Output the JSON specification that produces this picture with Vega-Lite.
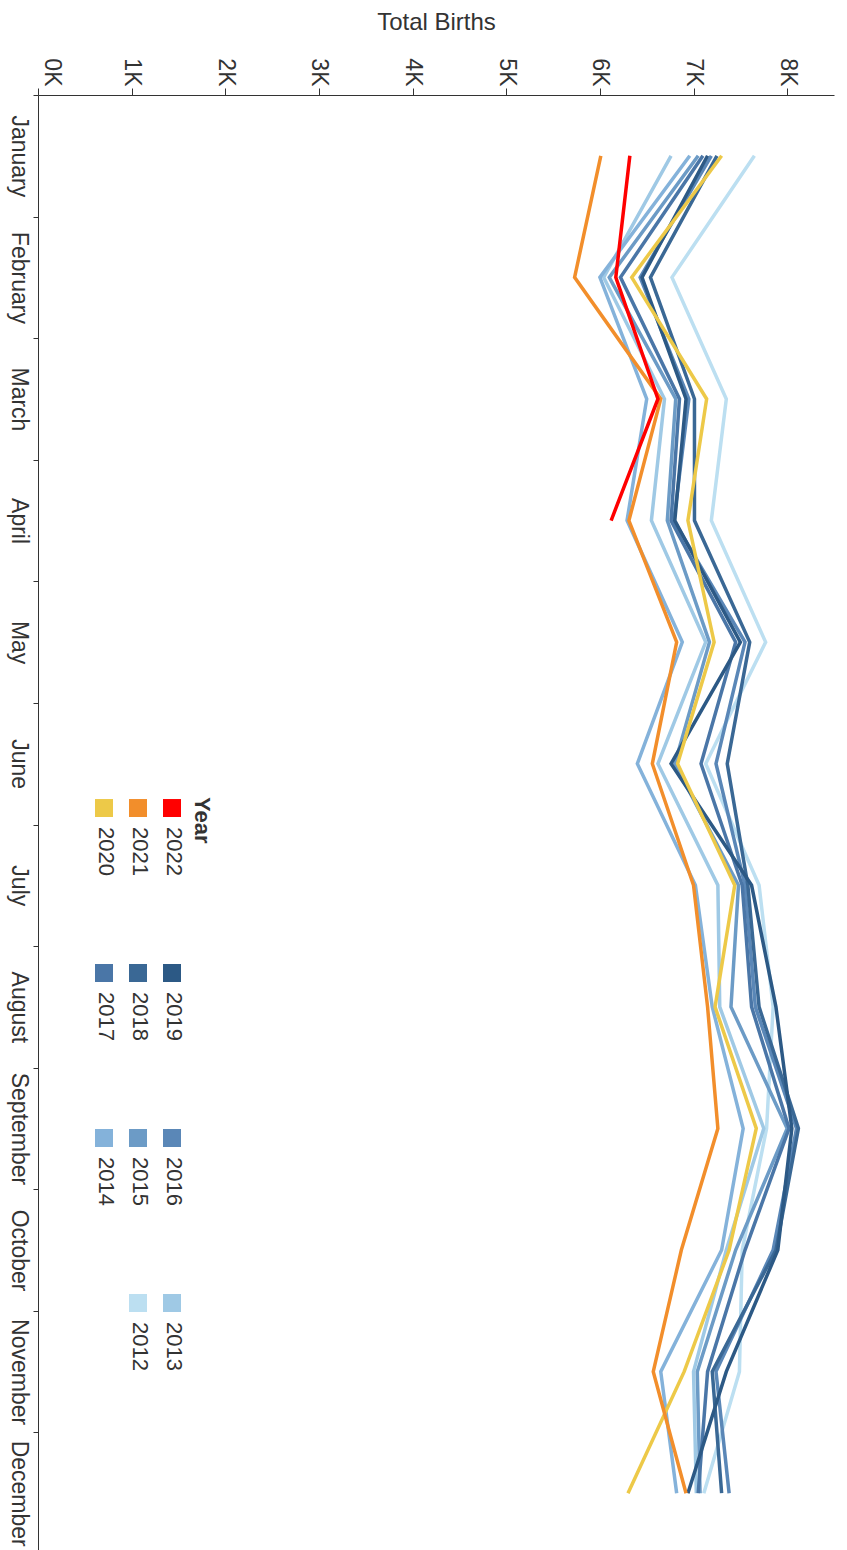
{
  "$schema": "https://vega.github.io/schema/vega-lite/v6.json",
  "width": 796,
  "height": 1459,
  "autosize": {"type": "none"},
  "padding": {"left": 38, "top": 95, "right": 13, "bottom": 0},
  "background": "white",
  "config": {"view": {"stroke": null}, "font": "Liberation Sans"},
  "data": {"values": [
    {"year":"2012","month":"January","m":1,"births":7650},{"year":"2012","month":"February","m":2,"births":6770},{"year":"2012","month":"March","m":3,"births":7350},{"year":"2012","month":"April","m":4,"births":7190},{"year":"2012","month":"May","m":5,"births":7770},{"year":"2012","month":"June","m":6,"births":7130},{"year":"2012","month":"July","m":7,"births":7700},{"year":"2012","month":"August","m":8,"births":7850},{"year":"2012","month":"September","m":9,"births":7780},{"year":"2012","month":"October","m":10,"births":7520},{"year":"2012","month":"November","m":11,"births":7490},{"year":"2012","month":"December","m":12,"births":7110},
    {"year":"2013","month":"January","m":1,"births":6760},{"year":"2013","month":"February","m":2,"births":6040},{"year":"2013","month":"March","m":3,"births":6690},{"year":"2013","month":"April","m":4,"births":6550},{"year":"2013","month":"May","m":5,"births":7130},{"year":"2013","month":"June","m":6,"births":6620},{"year":"2013","month":"July","m":7,"births":7260},{"year":"2013","month":"August","m":8,"births":7280},{"year":"2013","month":"September","m":9,"births":7750},{"year":"2013","month":"October","m":10,"births":7350},{"year":"2013","month":"November","m":11,"births":7000},{"year":"2013","month":"December","m":12,"births":7030},
    {"year":"2014","month":"January","m":1,"births":6960},{"year":"2014","month":"February","m":2,"births":6000},{"year":"2014","month":"March","m":3,"births":6500},{"year":"2014","month":"April","m":4,"births":6290},{"year":"2014","month":"May","m":5,"births":6880},{"year":"2014","month":"June","m":6,"births":6400},{"year":"2014","month":"July","m":7,"births":7020},{"year":"2014","month":"August","m":8,"births":7200},{"year":"2014","month":"September","m":9,"births":7530},{"year":"2014","month":"October","m":10,"births":7300},{"year":"2014","month":"November","m":11,"births":6650},{"year":"2014","month":"December","m":12,"births":6820},
    {"year":"2015","month":"January","m":1,"births":7050},{"year":"2015","month":"February","m":2,"births":6100},{"year":"2015","month":"March","m":3,"births":6810},{"year":"2015","month":"April","m":4,"births":6720},{"year":"2015","month":"May","m":5,"births":7170},{"year":"2015","month":"June","m":6,"births":6800},{"year":"2015","month":"July","m":7,"births":7480},{"year":"2015","month":"August","m":8,"births":7400},{"year":"2015","month":"September","m":9,"births":8000},{"year":"2015","month":"October","m":10,"births":7450},{"year":"2015","month":"November","m":11,"births":7040},{"year":"2015","month":"December","m":12,"births":7070},
    {"year":"2016","month":"January","m":1,"births":7190},{"year":"2016","month":"February","m":2,"births":6430},{"year":"2016","month":"March","m":3,"births":6950},{"year":"2016","month":"April","m":4,"births":6790},{"year":"2016","month":"May","m":5,"births":7550},{"year":"2016","month":"June","m":6,"births":7240},{"year":"2016","month":"July","m":7,"births":7550},{"year":"2016","month":"August","m":8,"births":7660},{"year":"2016","month":"September","m":9,"births":8100},{"year":"2016","month":"October","m":10,"births":7850},{"year":"2016","month":"November","m":11,"births":7240},{"year":"2016","month":"December","m":12,"births":7380},
    {"year":"2017","month":"January","m":1,"births":7100},{"year":"2017","month":"February","m":2,"births":6220},{"year":"2017","month":"March","m":3,"births":6850},{"year":"2017","month":"April","m":4,"births":6760},{"year":"2017","month":"May","m":5,"births":7450},{"year":"2017","month":"June","m":6,"births":7080},{"year":"2017","month":"July","m":7,"births":7520},{"year":"2017","month":"August","m":8,"births":7620},{"year":"2017","month":"September","m":9,"births":8020},{"year":"2017","month":"October","m":10,"births":7550},{"year":"2017","month":"November","m":11,"births":7150},{"year":"2017","month":"December","m":12,"births":7050},
    {"year":"2018","month":"January","m":1,"births":7250},{"year":"2018","month":"February","m":2,"births":6540},{"year":"2018","month":"March","m":3,"births":7010},{"year":"2018","month":"April","m":4,"births":7010},{"year":"2018","month":"May","m":5,"births":7600},{"year":"2018","month":"June","m":6,"births":7360},{"year":"2018","month":"July","m":7,"births":7580},{"year":"2018","month":"August","m":8,"births":7700},{"year":"2018","month":"September","m":9,"births":8120},{"year":"2018","month":"October","m":10,"births":7880},{"year":"2018","month":"November","m":11,"births":7200},{"year":"2018","month":"December","m":12,"births":7300},
    {"year":"2019","month":"January","m":1,"births":7150},{"year":"2019","month":"February","m":2,"births":6450},{"year":"2019","month":"March","m":3,"births":6920},{"year":"2019","month":"April","m":4,"births":6800},{"year":"2019","month":"May","m":5,"births":7500},{"year":"2019","month":"June","m":6,"births":6760},{"year":"2019","month":"July","m":7,"births":7620},{"year":"2019","month":"August","m":8,"births":7880},{"year":"2019","month":"September","m":9,"births":8050},{"year":"2019","month":"October","m":10,"births":7900},{"year":"2019","month":"November","m":11,"births":7350},{"year":"2019","month":"December","m":12,"births":6940},
    {"year":"2020","month":"January","m":1,"births":7300},{"year":"2020","month":"February","m":2,"births":6340},{"year":"2020","month":"March","m":3,"births":7140},{"year":"2020","month":"April","m":4,"births":6940},{"year":"2020","month":"May","m":5,"births":7220},{"year":"2020","month":"June","m":6,"births":6830},{"year":"2020","month":"July","m":7,"births":7440},{"year":"2020","month":"August","m":8,"births":7230},{"year":"2020","month":"September","m":9,"births":7670},{"year":"2020","month":"October","m":10,"births":7380},{"year":"2020","month":"November","m":11,"births":6900},{"year":"2020","month":"December","m":12,"births":6300},
    {"year":"2021","month":"January","m":1,"births":6010},{"year":"2021","month":"February","m":2,"births":5730},{"year":"2021","month":"March","m":3,"births":6650},{"year":"2021","month":"April","m":4,"births":6310},{"year":"2021","month":"May","m":5,"births":6820},{"year":"2021","month":"June","m":6,"births":6560},{"year":"2021","month":"July","m":7,"births":7000},{"year":"2021","month":"August","m":8,"births":7150},{"year":"2021","month":"September","m":9,"births":7260},{"year":"2021","month":"October","m":10,"births":6870},{"year":"2021","month":"November","m":11,"births":6570},{"year":"2021","month":"December","m":12,"births":6920},
    {"year":"2022","month":"January","m":1,"births":6320},{"year":"2022","month":"February","m":2,"births":6170},{"year":"2022","month":"March","m":3,"births":6620},{"year":"2022","month":"April","m":4,"births":6120}
  ]},
  "mark": {"type": "line", "strokeWidth": 3.5},
  "encoding": {
    "x": {
      "field": "births", "type": "quantitative",
      "scale": {"domain": [0, 8500], "nice": false, "zero": true},
      "axis": {
        "orient": "top", "title": "Total Births", "grid": false,
        "values": [0,1000,2000,3000,4000,5000,6000,7000,8000],
        "labelExpr": "datum.value / 1000 + 'K'",
        "labelAngle": 90, "labelAlign": "right", "labelBaseline": "middle",
        "labelFontSize": 23, "labelColor": "#333333", "labelPadding": 2,
        "tickSize": 7, "tickColor": "#333333", "domainColor": "#333333",
        "titleFontSize": 24, "titleFontWeight": "normal", "titleColor": "#333333", "titlePadding": 23,
        "encoding": {
          "labels": {"dy": {"value": {"expr": "datum.value === 0 ? -13 : 0"}}}
        }
      }
    },
    "y": {
      "field": "month", "type": "ordinal",
      "sort": ["January","February","March","April","May","June","July","August","September","October","November","December"],
      "scale": {"type": "band", "paddingInner": 0, "paddingOuter": 0},
      "bandPosition": 0.5,
      "axis": {
        "title": null, "grid": false, "tickBand": "extent",
        "labelAngle": 90, "labelAlign": "center", "labelBaseline": "top",
        "labelFontSize": 23, "labelColor": "#333333", "labelPadding": 4,
        "tickSize": 5, "tickColor": "#333333", "domainColor": "#333333"
      }
    },
    "order": {"field": "m", "type": "quantitative"},
    "color": {
      "field": "year", "type": "nominal",
      "scale": {
        "domain": ["2020","2021","2022","2017","2018","2019","2014","2015","2016"," ","2012","2013"],
        "range": ["#edc948","#f28e2b","#ff0000","#4a76a7","#3a6895","#2c5985","#84b2da","#6c9bc6","#5a87b7","rgba(0,0,0,0)","#bcdff1","#9fc9e5"]
      },
      "legend": {
        "orient": "none", "legendX": 55, "legendY": 702,
        "direction": "horizontal",
        "columns": 3, "gridAlign": "each", "columnPadding": -16, "rowPadding": 74, "padding": 0,
        "symbolType": "square", "symbolSize": 81, "symbolStrokeWidth": 9, "symbolOpacity": 1,
        "labelAlign": "left", "labelBaseline": "middle", "labelOffset": -9,
        "labelFontSize": 22, "labelColor": "#333333", "labelLimit": 0,
        "title": "Year", "titleOrient": "right", "titleAnchor": "start",
        "titleAlign": "left", "titleBaseline": "bottom",
        "titleFontSize": 22, "titleFontWeight": "bold", "titleColor": "#333333", "titlePadding": -5,
        "encoding": {
          "labels": {"angle": {"value": 90}, "dx": {"value": 19}},
          "title": {"angle": {"value": 90}}
        }
      }
    }
  }
}
